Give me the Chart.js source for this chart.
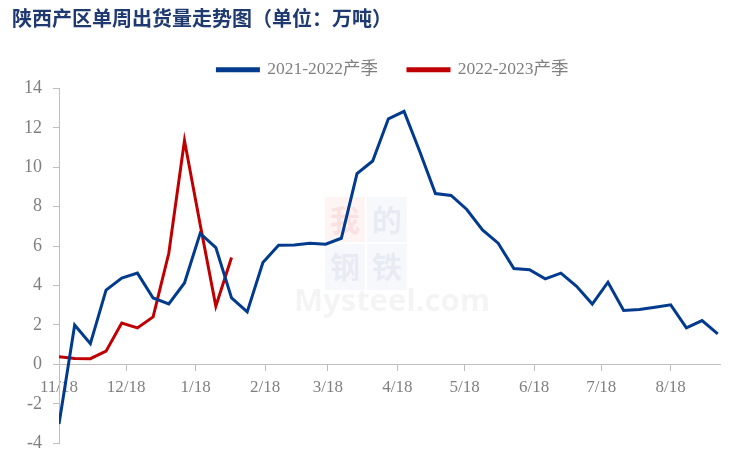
<!DOCTYPE html>
<html>
<head>
<meta charset="utf-8">
<script src="https://cdn.jsdelivr.net/npm/chart.js@4.4.1/dist/chart.umd.min.js"></script>
<style>
  html, body { margin: 0; padding: 0; background: #fff; }
  #wrap { width: 747px; height: 465px; position: relative; }
</style>
</head>
<body>
<div id="wrap"><canvas id="shipChart"></canvas></div>
<script>
  // Weekly shipments, Shaanxi region (10k tonnes); one value per week from 11/18
  const season2122 = [
    -3.03, 2.0, 1.05, 3.77, 4.38, 4.63, 3.37, 3.07, 4.13, 6.65,
    5.93, 3.37, 2.66, 5.17, 6.05, 6.06, 6.15, 6.1, 6.4, 9.68,
    10.32, 12.46, 12.84, 10.8, 8.67, 8.57, 7.86, 6.82, 6.15, 4.86,
    4.8, 4.34, 4.63, 3.96, 3.06, 4.17, 2.74, 2.79, 2.9, 3.02,
    1.85, 2.22, 1.55
  ];
  const season2223 = [0.39, 0.3, 0.29, 0.67, 2.1, 1.85, 2.41, 5.64, 11.36, 7.1, 2.95, 5.42];

  const seriesNames = ['2021-2022产季', '2022-2023产季'];

  // x axis: days since 11/18, labels on the 18th of each month
  const tickDays = [0, 30, 61, 92, 120, 151, 181, 212, 242, 273];
  const tickLabels = ['11/18', '12/18', '1/18', '2/18', '3/18', '4/18', '5/18', '6/18', '7/18', '8/18'];
  const yTicks = [-4, -2, 0, 2, 4, 6, 8, 10, 12, 14];

  const COLORS = {
    blue: '#023b8d',
    red: '#c00000',
    text: '#7f7f7f',
    axis: '#bfbfbf',
    title: '#1f3a70'
  };
  const SERIF = '"Liberation Serif", "Times New Roman", "Noto Sans CJK SC", serif';

  function toPoints(values) {
    return values.map((v, i) => ({ x: i * 7, y: v }));
  }

  // faint Mysteel watermark behind the lines
  const watermark = {
    id: 'watermark',
    beforeDatasetsDraw(chart) {
      const c = chart.ctx;
      c.save();
      c.fillStyle = 'rgba(230, 60, 60, 0.06)';
      c.fillRect(325, 197, 40, 45);
      c.fillStyle = 'rgba(60, 90, 160, 0.045)';
      c.fillRect(367, 197, 40, 45);
      c.fillRect(325, 244, 40, 46);
      c.fillRect(367, 244, 40, 46);
      c.font = 'bold 30px "Noto Sans CJK SC"';
      c.textAlign = 'center';
      c.textBaseline = 'middle';
      c.fillStyle = 'rgba(220, 60, 60, 0.1)';
      c.fillText('我', 345, 220);
      c.fillStyle = 'rgba(60, 90, 160, 0.08)';
      c.fillText('的', 387, 220);
      c.fillText('钢', 345, 267);
      c.fillText('铁', 387, 267);
      c.font = 'bold 31px "Open Sans", sans-serif';
      c.fillStyle = 'rgba(0, 0, 0, 0.045)';
      c.fillText('Mysteel.com', 392, 302);
      c.restore();
    }
  };

  // nudge the legend row so it sits over the plot like the original
  const legendShift = {
    id: 'legendShift',
    afterLayout(chart) {
      chart.legend.left += 27;
      chart.legend.right += 27;
    }
  };

  new Chart(document.getElementById('shipChart'), {
    type: 'line',
    data: {
      datasets: [
        {
          label: seriesNames[0],
          data: toPoints(season2122),
          borderColor: COLORS.blue,
          backgroundColor: COLORS.blue,
          borderWidth: 3,
          pointRadius: 0,
          tension: 0
        },
        {
          label: seriesNames[1],
          data: toPoints(season2223),
          borderColor: COLORS.red,
          backgroundColor: COLORS.red,
          borderWidth: 3,
          pointRadius: 0,
          tension: 0
        }
      ]
    },
    options: {
      responsive: true,
      maintainAspectRatio: false,
      animation: false,
      layout: { padding: { top: 6, right: 27, bottom: 16.7, left: 12 } },
      plugins: {
        title: {
          display: true,
          text: '陕西产区单周出货量走势图（单位：万吨）',
          align: 'start',
          color: COLORS.title,
          font: { family: '"Noto Sans CJK SC"', size: 20, weight: 'bold', lineHeight: 1.2 },
          padding: { top: 0, bottom: 22 }
        },
        legend: {
          display: true,
          position: 'top',
          labels: {
            color: COLORS.text,
            boxWidth: 41,
            boxHeight: 2,
            padding: 9,
            font: { family: SERIF, size: 17.5 },
            generateLabels(chart) {
              const items = Chart.defaults.plugins.legend.labels.generateLabels(chart);
              // widen the first entry so the second one starts further right
              items[0].text += '\u2003\u2009';
              return items;
            }
          }
        },
        tooltip: { enabled: false }
      },
      scales: {
        x: {
          type: 'linear',
          position: { y: 0 },
          min: 0,
          max: 295,
          afterBuildTicks(scale) {
            scale.ticks = tickDays.map(d => ({ value: d }));
          },
          grid: {
            drawOnChartArea: false,
            drawTicks: true,
            tickLength: 6,
            color: COLORS.axis
          },
          border: { display: true, color: COLORS.axis, width: 1 },
          ticks: {
            color: COLORS.text,
            padding: 7,
            maxRotation: 0,
            autoSkip: false,
            font: { family: SERIF, size: 17 },
            callback: (value, index) => tickLabels[index]
          }
        },
        y: {
          min: -4,
          max: 14,
          afterBuildTicks(scale) {
            scale.ticks = yTicks.map(v => ({ value: v }));
          },
          afterFit(scale) {
            scale.width = 47;
          },
          grid: {
            drawOnChartArea: false,
            drawTicks: true,
            tickLength: 6,
            color: COLORS.axis
          },
          border: { display: true, color: COLORS.axis, width: 1 },
          ticks: {
            color: COLORS.text,
            padding: 11,
            font: { family: SERIF, size: 18 }
          }
        }
      }
    },
    plugins: [watermark, legendShift]
  });
</script>
</body>
</html>
